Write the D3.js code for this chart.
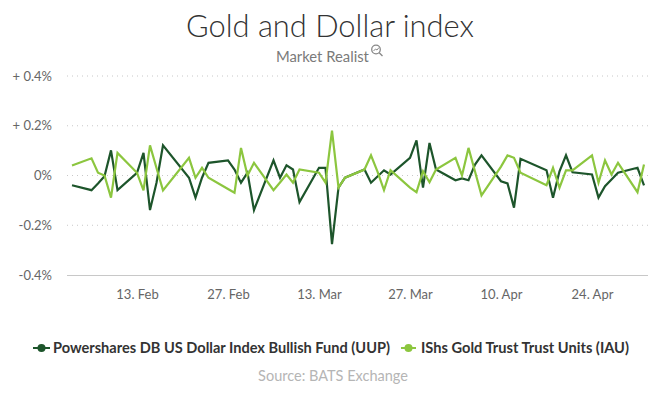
<!DOCTYPE html>
<html><head><meta charset="utf-8">
<script src="https://cdn.jsdelivr.net/npm/d3@7"></script>
<style>
html,body{margin:0;padding:0;background:#fff;}
svg{display:block;font-family:Lato,"Open Sans",sans-serif;}
</style></head>
<body>
<svg id="chart" width="660" height="400"></svg>
<script>
const dates = [
 "2017-02-03","2017-02-06","2017-02-07","2017-02-08","2017-02-09","2017-02-10",
 "2017-02-13","2017-02-14","2017-02-15","2017-02-16","2017-02-17",
 "2017-02-21","2017-02-22","2017-02-23","2017-02-24","2017-02-27","2017-02-28",
 "2017-03-01","2017-03-02","2017-03-03","2017-03-06","2017-03-07","2017-03-08","2017-03-09","2017-03-10",
 "2017-03-13","2017-03-14","2017-03-15","2017-03-16","2017-03-17","2017-03-20","2017-03-21","2017-03-22",
 "2017-03-23","2017-03-24","2017-03-27","2017-03-28","2017-03-29","2017-03-30","2017-03-31",
 "2017-04-03","2017-04-04","2017-04-05","2017-04-06","2017-04-07","2017-04-10","2017-04-11","2017-04-12",
 "2017-04-13","2017-04-17","2017-04-18","2017-04-19","2017-04-20","2017-04-21","2017-04-24","2017-04-25",
 "2017-04-26","2017-04-27","2017-04-28","2017-05-01","2017-05-02"
];
const uup = [
 -0.039,-0.059,-0.032,-0.003,0.101,-0.059,0.011,0.091,-0.139,-0.029,0.121,-0.009,-0.089,-0.009,0.051,0.061,0.024,
 -0.029,0.011,-0.139,0.061,-0.009,0.041,0.024,-0.107,0.031,0.031,-0.276,-0.049,-0.009,0.024,-0.029,-0.004,0.021,0.004,0.071,0.141,-0.049,0.131,0.024,
 -0.019,-0.012,-0.019,0.044,0.081,-0.023,-0.032,-0.129,0.067,0.021,-0.089,0.017,0.081,0.013,0.004,-0.089,-0.043,-0.016,0.011,
 0.031,-0.04
];
const iau = [
 0.04,0.069,0.011,0,-0.089,0.091,0.011,-0.06,0.121,0.03,-0.06,0.071,-0.009,0.031,-0.009,-0.054,-0.069,
 0.111,0,0.051,-0.059,-0.028,0.004,-0.029,0.024,0.011,-0.029,0.18,-0.049,-0.009,0.024,0.081,0.016,-0.059,0.021,-0.049,-0.067,0.017,-0.027,0.024,
 0.071,0,0.111,0.016,-0.08,0.036,0.081,0.071,0.011,-0.039,0.031,-0.049,0.021,0.021,0.081,-0.029,0.061,0.004,0.051,
 -0.067,0.044
];
const seriesNames = ["Powershares DB US Dollar Index Bullish Fund (UUP)","IShs Gold Trust Trust Units (IAU)"];
const seriesColors = ["#1d552b","#8cc63f"];
const yTicks = [0.4,0.2,0,-0.2,-0.4];
const yTickLabels = ["+ 0.4%","+ 0.2%","0%","-0.2%","-0.4%"];
const xTickDates = ["2017-02-13","2017-02-27","2017-03-13","2017-03-27","2017-04-10","2017-04-24"];
const xTickLabels = ["13. Feb","27. Feb","13. Mar","27. Mar","10. Apr","24. Apr"];
const titleText = "Gold and Dollar index";
const subtitleText = "Market Realist";
const sourceText = "Source: BATS Exchange";

const parse = d3.utcParse("%Y-%m-%d");
const D = dates.map(parse);
const svg = d3.select("#chart");

const plotL = 67, plotR = 648;
const x = d3.scaleUtc().domain([D[0], D[D.length-1]]).range([72, 644]);
const y = d3.scaleLinear().domain([-0.4, 0.4]).range([275, 76]);

function fit(sel, w){
  const n = sel.node(); const cur = n.getComputedTextLength();
  const fs = parseFloat(sel.attr("font-size"));
  sel.attr("font-size", (fs*w/cur).toFixed(2));
}

// title
const t = svg.append("text").attr("x",330).attr("y",37).attr("text-anchor","middle")
  .attr("font-size",27).attr("fill","#333").attr("font-weight",300).text(titleText);
fit(t, 288);
const st = svg.append("text").attr("x",276).attr("y",62)
  .attr("font-size",15).attr("fill","#7a7a7a").text(subtitleText);
fit(st, 93);
// small logo icon
const ic = svg.append("g").attr("fill","none").attr("stroke","#888").attr("stroke-width",1.3);
ic.append("circle").attr("cx",376).attr("cy",49.5).attr("r",4.3);
ic.append("line").attr("x1",379.2).attr("y1",52.7).attr("x2",382.5).attr("y2",56);
ic.append("path").attr("d","M373.5,51 L375.5,49 L377,50 L379,47.5").attr("stroke-width",1);

// grid
const yAxis = d3.axisLeft(y).tickValues(yTicks).tickSize(0).tickPadding(0)
  .tickFormat((d,i)=>yTickLabels[i]);
const gy = svg.append("g").attr("transform",`translate(${plotL-15},0)`).call(yAxis);
gy.select(".domain").remove();
gy.selectAll("text").attr("font-size",13).attr("fill","#666").attr("font-family","Lato,'Open Sans',sans-serif");

svg.append("g").selectAll("line").data(yTicks.filter(d=>d!==-0.4)).join("line")
  .attr("x1",plotL).attr("x2",plotR).attr("y1",d=>y(d)).attr("y2",d=>y(d))
  .attr("stroke","#c8c8c8").attr("stroke-dasharray","1,4").attr("stroke-width",1);

const xAxis = d3.axisBottom(x).tickValues(xTickDates.map(parse)).tickSize(0).tickPadding(15)
  .tickFormat((d,i)=>xTickLabels[i]);
const gx = svg.append("g").attr("transform",`translate(0,${y(-0.4)})`).call(xAxis);
gx.select(".domain").remove();
gx.selectAll("text").attr("font-size",13).attr("fill","#666").attr("font-family","Lato,'Open Sans',sans-serif");
svg.append("line").attr("x1",plotL).attr("x2",plotR).attr("y1",y(-0.4)+0.5).attr("y2",y(-0.4)+0.5)
  .attr("stroke","#c8c8c8").attr("stroke-width",1);

// lines
const line = d3.line().x((d,i)=>x(D[i])).y(d=>y(d));
[uup, iau].forEach((s,k)=>{
  svg.append("path").datum(s).attr("d",line).attr("fill","none")
    .attr("stroke",seriesColors[k]).attr("stroke-width",2.2).attr("stroke-linejoin","miter");
});

// legend
const legendItems = [
  {mx0:33, mx1:50, tx:53, tw:337},
  {mx0:401, mx1:416, tx:421, tw:208}
];
legendItems.forEach((li,k)=>{
  const g = svg.append("g");
  g.append("line").attr("x1",li.mx0).attr("x2",li.mx1).attr("y1",348).attr("y2",348)
    .attr("stroke",seriesColors[k]).attr("stroke-width",2);
  g.append("circle").attr("cx",(li.mx0+li.mx1)/2).attr("cy",348).attr("r",4).attr("fill",seriesColors[k]);
  const tt = g.append("text").attr("x",li.tx).attr("y",352.5).attr("font-size",13)
    .attr("font-weight",700).attr("fill","#333").text(seriesNames[k]);
  fit(tt, li.tw);
});

const so = svg.append("text").attr("x",333).attr("y",381).attr("text-anchor","middle")
  .attr("font-size",13).attr("fill","#b5b5b5").text(sourceText);
fit(so, 150);
</script>
</body></html>
